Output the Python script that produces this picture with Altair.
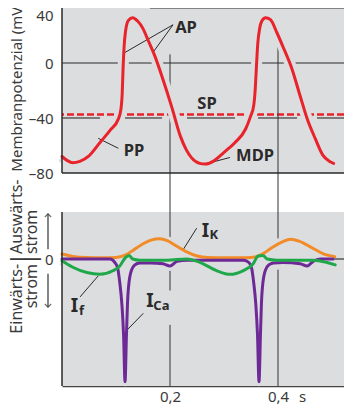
import altair as alt
import pandas as pd

# ---------------- data ----------------
# membrane potential (mV) over time (s)
ap_t = [0.000, 0.010, 0.020, 0.033, 0.050, 0.070, 0.089, 0.104, 0.109, 0.1115, 0.113, 0.115,
        0.118, 0.123, 0.131, 0.140, 0.150, 0.160, 0.172, 0.187, 0.204, 0.219, 0.230, 0.240,
        0.255, 0.265, 0.280, 0.300, 0.320, 0.340, 0.349, 0.355, 0.358, 0.360, 0.3625, 0.366,
        0.370, 0.377, 0.386, 0.398, 0.409, 0.426, 0.441, 0.454, 0.469, 0.483, 0.495, 0.503]
ap_mv = [-68, -71, -72.5, -71.5, -67.5, -58, -49, -41, -34, -22, -5, 12,
         24, 31, 33, 30.5, 25, 16, 5, -12, -33, -53, -63, -69,
         -73, -73.5, -71.5, -65, -58, -48, -39, -31, -18, -3, 14, 25,
         30.5, 33, 31.5, 22, 12, -4.5, -24, -40.5, -55, -67, -71.5, -73]

# currents (arbitrary units, outward positive)
ik_t = [0.000, 0.020, 0.045, 0.075, 0.100, 0.120, 0.132, 0.145, 0.165, 0.181, 0.195, 0.210,
        0.230, 0.250, 0.270, 0.300, 0.340, 0.360, 0.374, 0.390, 0.408, 0.423, 0.440, 0.463,
        0.485, 0.505]
ik_i = [0.42, 0.22, 0.12, 0.1, 0.13, 0.4, 0.75, 1.15, 1.6, 1.72, 1.55, 1.15,
        0.62, 0.25, 0.12, 0.1, 0.1, 0.2, 0.5, 1.0, 1.45, 1.68, 1.5, 0.95,
        0.42, 0.2]

if_t = [0.000, 0.020, 0.046, 0.070, 0.094, 0.107, 0.117, 0.124, 0.131, 0.144, 0.194, 0.231,
        0.256, 0.287, 0.311, 0.335, 0.354, 0.363, 0.372, 0.380, 0.398, 0.465, 0.491, 0.506]
if_i = [-0.15, -0.7, -1.15, -1.3, -1.0, -0.6, 0.1, 0.3, 0.0, -0.1, -0.1, 0.0,
        -0.3, -1.0, -1.3, -1.0, -0.4, 0.25, 0.3, 0.0, -0.1, -0.1, -0.3, -0.5]

ica_t = [0.000, 0.089, 0.098, 0.103, 0.107, 0.111, 0.114, 0.1167, 0.1194, 0.122, 0.127, 0.135,
         0.144, 0.165, 0.187, 0.200, 0.213, 0.231, 0.337, 0.346, 0.351, 0.355, 0.359, 0.362,
         0.3648, 0.3675, 0.370, 0.375, 0.383, 0.392, 0.409, 0.441, 0.454, 0.465, 0.478, 0.502]
ica_i = [0.0, 0.0, -0.3, -0.75, -2.0, -3.9, -6.4, -10.4, -6.4, -3.1, -1.2, -0.5,
         -0.33, -0.33, -0.4, -0.6, -0.2, -0.1, -0.1, -0.3, -0.75, -2.0, -3.9, -6.4,
         -10.4, -6.4, -3.1, -1.2, -0.5, -0.33, -0.3, -0.4, -0.6, -0.2, 0.0, 0.0]

x_ticks = [0.2, 0.4]
x_tick_labels = ["0,2", "0,4"]
mv_ticks = [40, 0, -40, -80]
sp_level = -37.4          # threshold (SP), red dashed
ref_level = -40           # grey reference line
ref_seg_start = [0.000, 0.1167, 0.2315, 0.3630, 0.4722]
ref_seg_end = [0.0704, 0.1852, 0.3204, 0.4352, 0.5222]

top_labels = ["AP", "SP", "PP", "MDP"]
top_label_t = [0.2296, 0.2685, 0.1333, 0.3574]
top_label_v = [25.3, -29.7, -64.2, -67.7]
top_lead_t = [0.2056, 0.2056, 0.1043, 0.311]
top_lead_v = [27.8, 27.8, -62.0, -68.7]
top_lead_t2 = [0.1167, 0.1685, 0.0672, 0.2667]
top_lead_v2 = [7.7, 7.7, -54.8, -73.3]

cur_main = ["I", "I", "I"]
cur_main_t = [0.2657, 0.0231, 0.1630]
cur_main_v = [2.375, -3.96, -3.54]
cur_sub = ["K", "f", "Ca"]
cur_sub_t = [0.2810, 0.0362, 0.1840]
cur_sub_v = [2.0, -4.42, -4.0]
cur_lead_t = [0.2494, 0.0333, 0.1506]
cur_lead_v = [2.61, -3.22, -4.6]
cur_lead_t2 = [0.2246, 0.0673, 0.1209]
cur_lead_v2 = [0.81, -1.42, -6.0]

# vertical guide lines at 0,2 s and 0,4 s (start/end value, panel 0 = mV, 1 = current)
guide_t = [0.2, 0.2, 0.2, 0.4, 0.4]
guide_a = [6.3, -1.0, -5.58, 12.0, -0.9]
guide_a_panel = [0, 1, 1, 0, 1]
guide_b = [1.75, -2.67, -10.76, 1.75, -10.76]
guide_b_panel = [1, 1, 1, 1, 1]

# ---------------- layout / style ----------------
BG = "#dcdddf"
RED = "#e8232b"
ORANGE = "#f28c28"
GREEN = "#1fa84a"
PURPLE = "#6d2a96"
INK = "#2a2a2a"
TICK = "#3a3a3a"
FONT = "Noto Sans"

W = 282
XMAX = 0.5222
PX = 1.375                    # px per mV
TOP2 = -80 - 39 / PX          # top of current panel (in mV-units)
Z2 = TOP2 - 47 / PX           # zero current line
K = 11.8 / PX                 # mV-units per current unit
BOT2 = TOP2 - 174 / PX        # bottom of current panel
HEIGHT = round((40 - BOT2) * PX)

CUR = f"{Z2} + datum.v * {K}"

xs = alt.Scale(domain=[0, XMAX], nice=False, zero=False)
ys = alt.Scale(domain=[BOT2, 40], nice=False, zero=False)

ax_x = alt.Axis(values=x_ticks, labelExpr="datum.value < 0.3 ? '0,2' : '0,4'",
                ticks=False, tickSize=0, grid=False, labelPadding=3, labelFontSize=15,
                labelFont=FONT, labelColor=TICK, domainColor="#444", domainWidth=1.5,
                title="s", titleX=240, titleY=3, titleBaseline="top",
                titleFontWeight="normal", titleFontSize=15, titleFont=FONT, titleColor=TICK)
ax_y = alt.Axis(values=mv_ticks + [Z2],
                labelExpr=f"abs(datum.value - ({Z2})) < 0.5 ? '0' : "
                          "(datum.value < 0 ? '\u2013' + abs(datum.value) : '' + datum.value)",
                labelBaseline={"condition": {"test": "datum.value == 40", "value": "top"},
                               "value": "middle"},
                ticks=False, tickSize=0, grid=False, domain=False, labelPadding=9,
                labelFontSize=15, labelFont=FONT, labelColor=TICK)


def X(f):
    return alt.X(f"{f}:Q", scale=xs, axis=ax_x)


def Y(f):
    return alt.Y(f"{f}:Q", scale=ys, axis=ax_y, title=None)


# ---------------- frames & guides ----------------
panels = pd.DataFrame({"t": [0.0, 0.0], "t2": [XMAX, XMAX], "y": [40.0, TOP2], "y2": [-80.0, BOT2]})
bg = alt.Chart(panels).mark_rect(color=BG).encode(x=X("t"), x2="t2", y=Y("y"), y2="y2")
left_edges = alt.Chart(panels).mark_rule(color=INK, strokeWidth=1.5).encode(
    x=X("t"), y=Y("y"), y2="y2")
frame_h = pd.DataFrame({"t": [0.0, 0.163], "t2": [XMAX, XMAX], "y": [-80.0, 40.0], "w": [1.5, 1.0]})
hedges = alt.Chart(frame_h).mark_rule(color=INK).encode(
    x=X("t"), x2="t2", y=Y("y"), strokeWidth=alt.StrokeWidth("w:Q", scale=None))

lvl = pd.DataFrame({"zero": [0.0], "sp": [sp_level], "z2": [Z2]})
zero1 = alt.Chart(lvl).mark_rule(color=INK, strokeWidth=1).encode(y=Y("zero"))
zero2 = alt.Chart(lvl).mark_rule(color="#555", strokeWidth=1.5).encode(y=Y("z2"))
refseg = pd.DataFrame({"t": ref_seg_start, "t2": ref_seg_end, "v": [ref_level] * len(ref_seg_start)})
ref40 = alt.Chart(refseg).mark_rule(color="#7b7b7b", strokeWidth=2).encode(
    x=X("t"), x2="t2", y=Y("v"))
sp = alt.Chart(lvl).mark_rule(color=RED, strokeWidth=2.5, strokeDash=[7, 3]).encode(y=Y("sp"))

guides = pd.DataFrame({"t": guide_t, "a": guide_a, "pa": guide_a_panel,
                       "b": guide_b, "pb": guide_b_panel})
vrules = alt.Chart(guides).transform_calculate(
    ya=f"datum.pa == 0 ? datum.a : {Z2} + datum.a * {K}",
    yb=f"datum.pb == 0 ? datum.b : {Z2} + datum.b * {K}",
).mark_rule(color="#333", strokeWidth=1).encode(x=X("t"), y=Y("ya"), y2="yb")

# ---------------- curves ----------------
ap = pd.DataFrame({"t": ap_t, "v": ap_mv})
ik = pd.DataFrame({"t": ik_t, "v": ik_i})
iff = pd.DataFrame({"t": if_t, "v": if_i})
ica = pd.DataFrame({"t": ica_t, "v": ica_i})

halo_ap = alt.Chart(ap).mark_line(color=BG, strokeWidth=11, interpolate="monotone").encode(
    x=X("t"), y=Y("v"))
line_ap = alt.Chart(ap).mark_line(color=RED, strokeWidth=3, interpolate="monotone",
                                  strokeCap="round").encode(x=X("t"), y=Y("v"))
cur_halos = [alt.Chart(d).transform_calculate(y=CUR).mark_line(
    color=BG, strokeWidth=9, interpolate="monotone").encode(x=X("t"), y=Y("y"))
    for d in (ik, ica, iff)]
cur_lines = [alt.Chart(d).transform_calculate(y=CUR).mark_line(
    color=c, strokeWidth=3, interpolate="monotone", strokeCap="round").encode(x=X("t"), y=Y("y"))
    for d, c in ((ik, ORANGE), (ica, PURPLE), (iff, GREEN))]

# ---------------- labels ----------------
tlead = pd.DataFrame({"t": top_lead_t, "v": top_lead_v, "t2": top_lead_t2, "v2": top_lead_v2})
lead1 = alt.Chart(tlead).mark_rule(color=INK, strokeWidth=1).encode(
    x=X("t"), y=Y("v"), x2="t2", y2="v2")
clead = pd.DataFrame({"t": cur_lead_t, "v": cur_lead_v, "t2": cur_lead_t2, "v2": cur_lead_v2})
lead2 = alt.Chart(clead).transform_calculate(
    y=CUR, y2=f"{Z2} + datum.v2 * {K}").mark_rule(color=INK, strokeWidth=1).encode(
    x=X("t"), y=Y("y"), x2="t2", y2="y2")

tl = pd.DataFrame({"txt": top_labels, "t": top_label_t, "v": top_label_v})
tl_halo = alt.Chart(tl).mark_text(font=FONT, fontWeight="bold", fontSize=16.5, stroke=BG,
                                  strokeWidth=4, color=BG).encode(x=X("t"), y=Y("v"), text="txt")
tl_txt = alt.Chart(tl).mark_text(font=FONT, fontWeight="bold", fontSize=16.5, color=INK).encode(
    x=X("t"), y=Y("v"), text="txt")

cm = pd.DataFrame({"txt": cur_main, "t": cur_main_t, "v": cur_main_v})
cs = pd.DataFrame({"txt": cur_sub, "t": cur_sub_t, "v": cur_sub_v})
cm_halo = alt.Chart(cm).transform_calculate(y=CUR).mark_text(
    font=FONT, fontWeight="bold", fontSize=19, stroke=BG, strokeWidth=4, color=BG).encode(
    x=X("t"), y=Y("y"), text="txt")
cm_txt = alt.Chart(cm).transform_calculate(y=CUR).mark_text(
    font=FONT, fontWeight="bold", fontSize=19, color=INK).encode(x=X("t"), y=Y("y"), text="txt")
cs_txt = alt.Chart(cs).transform_calculate(y=CUR).mark_text(
    font=FONT, fontWeight="bold", fontSize=13, color=INK).encode(x=X("t"), y=Y("y"), text="txt")

# axis titles (rotated), drawn as text beside the panels
ytitle = pd.DataFrame({"txt": ["Membranpotenzial (mV)"], "v": [-79.0]})
ytl = alt.Chart(ytitle).mark_text(font=FONT, fontSize=15, color=TICK, angle=270,
                                  align="left", baseline="middle").encode(
    x=alt.value(-45), y=Y("v"), text="txt")

side_right = pd.DataFrame({"txt": ["Einw\u00e4rts-", "strom"], "px": [-45, -30], "v": [-0.42, -0.42]})
side_left = pd.DataFrame({"txt": ["Ausw\u00e4rts-", "strom"], "px": [-45, -30], "v": [0.42, 0.42]})
side_bar = pd.DataFrame({"txt": ["|", "|"], "px": [-45, -30], "v": [0.0, 0.0]})
side_r = alt.Chart(side_right).transform_calculate(y=CUR).mark_text(
    font=FONT, fontSize=16, color=TICK, angle=270, align="right", baseline="middle").encode(
    x=alt.X("px:Q", scale=None), y=Y("y"), text="txt")
side_l = alt.Chart(side_left).transform_calculate(y=CUR).mark_text(
    font=FONT, fontSize=16, color=TICK, angle=270, align="left", baseline="middle").encode(
    x=alt.X("px:Q", scale=None), y=Y("y"), text="txt")
side_b = alt.Chart(side_bar).transform_calculate(y=CUR).mark_text(
    font=FONT, fontSize=16, fontWeight="bold", color=TICK, angle=270, align="center",
    baseline="middle").encode(x=alt.X("px:Q", scale=None), y=Y("y"), text="txt")

arrows = pd.DataFrame({"v": [0.83, -1.25], "v2": [3.83, -4.08]})
arr = alt.Chart(arrows).transform_calculate(y=CUR, y2=f"{Z2} + datum.v2 * {K}").mark_rule(
    color="#333", strokeWidth=1.2).encode(x=alt.value(-14), y=Y("y"), y2="y2")
head_up = pd.DataFrame({"v": [3.83]})
head_dn = pd.DataFrame({"v": [-4.08]})
hu = alt.Chart(head_up).transform_calculate(y=CUR).mark_point(
    shape="M-1,1L0,0L1,1", size=40, filled=False, color="#333", strokeWidth=1.2).encode(
    x=alt.value(-14), y=Y("y"))
hd = alt.Chart(head_dn).transform_calculate(y=CUR).mark_point(
    shape="M-1,-1L0,0L1,-1", size=40, filled=False, color="#333", strokeWidth=1.2).encode(
    x=alt.value(-14), y=Y("y"))

chart = alt.layer(
    bg, zero1, ref40, sp, zero2, vrules, halo_ap, *cur_halos, lead1, lead2,
    line_ap, *cur_lines, left_edges, hedges, tl_halo, tl_txt, cm_halo, cm_txt, cs_txt,
    ytl, side_r, side_l, side_b, arr, hu, hd
).properties(
    width=W, height=HEIGHT,
    autosize=alt.AutoSizeParams(type="none"),
    padding={"left": 54, "top": 0, "right": 0, "bottom": 18}
).configure_view(strokeWidth=0)

chart.save("out.html", embed_options={"renderer": "svg", "actions": False})
